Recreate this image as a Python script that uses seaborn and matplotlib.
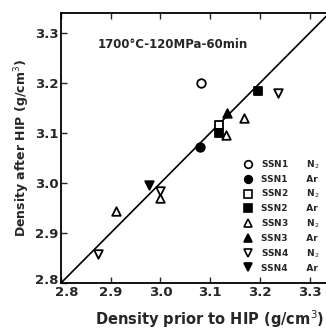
import matplotlib
matplotlib.use("Agg")
import matplotlib.pyplot as plt
import matplotlib.transforms as mtransforms
import seaborn as sns
import pandas as pd
from matplotlib.lines import Line2D

sns.set_theme(style="white")
plt.rcParams['font.family'] = ['DejaVu Sans']

# Data (density prior to HIP, density after HIP)
ssn1_n2_x = [3.082]
ssn1_n2_y = [3.200]
ssn1_ar_x = [3.079]
ssn1_ar_y = [3.073]
ssn2_n2_x = [3.118]
ssn2_n2_y = [3.117]
ssn2_ar_x = [3.118, 3.196]
ssn2_ar_y = [3.100, 3.184]
ssn3_n2_x = [2.911, 3.000, 3.131, 3.168]
ssn3_n2_y = [2.944, 2.970, 3.097, 3.130]
ssn3_ar_x = [3.133]
ssn3_ar_y = [3.140]
ssn4_n2_x = [2.875, 3.000, 3.236]
ssn4_n2_y = [2.857, 2.985, 3.180]
ssn4_ar_x = [2.976]
ssn4_ar_y = [2.997]

ref_x = [2.8, 3.34]
ref_y = [2.8, 3.34]

x_ticks = [2.8, 2.9, 3.0, 3.1, 3.2, 3.3]
x_tick_labels = ["2.8", "2.9", "3.0", "3.1", "3.2", "3.3"]
y_ticks = [2.8, 2.9, 3.0, 3.1, 3.2, 3.3]
y_tick_labels = ["2.8", "2.9", "3.0", "3.1", "3.2", "3.3"]

series = [
    ("SSN1", "N$_2$", ssn1_n2_x, ssn1_n2_y, "o", False),
    ("SSN1", "Ar", ssn1_ar_x, ssn1_ar_y, "o", True),
    ("SSN2", "N$_2$", ssn2_n2_x, ssn2_n2_y, "s", False),
    ("SSN2", "Ar", ssn2_ar_x, ssn2_ar_y, "s", True),
    ("SSN3", "N$_2$", ssn3_n2_x, ssn3_n2_y, "^", False),
    ("SSN3", "Ar", ssn3_ar_x, ssn3_ar_y, "^", True),
    ("SSN4", "N$_2$", ssn4_n2_x, ssn4_n2_y, "v", False),
    ("SSN4", "Ar", ssn4_ar_x, ssn4_ar_y, "v", True),
]

fig = plt.figure(figsize=(3.26, 3.30), dpi=100)
ax = fig.add_axes([61 / 326, 47 / 330, 265 / 326, 270 / 330])

sns.lineplot(x=ref_x, y=ref_y, ax=ax, color="black", lw=1.2)

handles = []
labels = []
for name, gas, xs, ys, mk, filled in series:
    df = pd.DataFrame({"x": xs, "y": ys})
    sns.scatterplot(data=df, x="x", y="y", ax=ax, marker=mk, s=38,
                    facecolor="black" if filled else "white",
                    edgecolor="black", linewidth=1.3, zorder=3)
    handles.append(Line2D([], [], marker=mk, ls="none", markersize=5.5,
                          markerfacecolor="black" if filled else "white",
                          markeredgecolor="black", markeredgewidth=1.2))
    labels.append(f"{name}      {gas}")

ax.set_xlim(2.8, 3.333)
ax.set_ylim(2.8, 3.34)
ax.set_xticks(x_ticks)
ax.set_xticklabels(x_tick_labels, fontsize=9.5, fontweight="bold")
ax.set_yticks(y_ticks)
ax.set_yticklabels(y_tick_labels, fontsize=9.5, fontweight="bold")
ax.tick_params(direction="in", length=4, width=1, top=True, bottom=True,
               left=True, right=False, pad=2)
for sp in ["left", "bottom", "top"]:
    ax.spines[sp].set_color("black")
    ax.spines[sp].set_linewidth(1.3)
ax.spines["right"].set_visible(False)

# nudge the two "2.8" labels apart as in the reference
fig.canvas.draw()
ylab0 = ax.get_yticklabels()[0]
ylab0.set_transform(ylab0.get_transform() +
                    mtransforms.ScaledTranslation(0, 4 / 100, fig.dpi_scale_trans))
xlab0 = ax.get_xticklabels()[0]
xlab0.set_transform(xlab0.get_transform() +
                    mtransforms.ScaledTranslation(6 / 100, 0, fig.dpi_scale_trans))

ax.set_xlabel("Density prior to HIP (g/cm$^3$)", fontsize=10.5,
              fontweight="bold", labelpad=4)
ax.xaxis.set_label_coords(0.56, -0.095)
ax.set_ylabel("Density after HIP (g/cm$^3$)", fontsize=9,
              fontweight="bold", labelpad=2)

ax.text(2.873, 3.278, "1700°C-120MPa-60min", fontsize=8.5,
        fontweight="bold", va="center", ha="left")

leg = ax.legend(handles, labels, loc="lower right", frameon=False,
                fontsize=6.5, handlelength=1.0, handletextpad=0.9,
                labelspacing=0.45, borderaxespad=0.3,
                bbox_to_anchor=(1.0, 0.015))
for t in leg.get_texts():
    t.set_fontweight("bold")

fig.savefig("out.png", dpi=100)
